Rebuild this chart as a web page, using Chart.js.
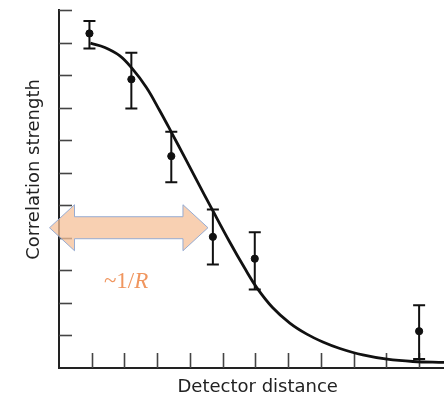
<!DOCTYPE html>
<html>
<head>
<meta charset="utf-8">
<script src="https://cdn.jsdelivr.net/npm/chart.js@4/dist/chart.umd.min.js"></script>
<style>
html,body{margin:0;padding:0;background:#fff;}
#wrap{width:444px;height:397px;}
</style>
</head>
<body>
<div id="wrap"><canvas id="c" width="444" height="397"></canvas></div>
<script>
// ---- data ----
const curveX = [0.96,1.40,1.85,2.22,2.67,3.07,3.43,3.84,4.20,4.69,5.21,5.67,6.04,6.53,7.05,7.57,8.06,8.58,9.28,10.02,10.81,11.76];
const curveY = [9.98,9.85,9.60,9.22,8.62,7.92,7.25,6.47,5.78,4.85,3.88,3.07,2.47,1.85,1.38,1.04,0.80,0.60,0.40,0.27,0.20,0.17];
const pointX = [0.93,2.21,3.43,4.70,5.98,11.0];
const pointY = [10.28,8.87,6.51,4.03,3.36,1.13];
const errHigh = [10.66,9.69,7.26,4.87,4.17,1.93];
const errLow  = [9.82,7.97,5.71,3.18,2.41,0.28];
const xTickValues = [1,2,3,4,5,6,7,8,9,10,11];
const yTickValues = [1,2,3,4,5,6,7,8,9,10,11];
const xTitle = "Detector distance";
const yTitle = "Correlation strength";
const arrowFrom = -0.29, arrowTo = 4.55, arrowY = 4.31;
const noteText = ["~1/", "R"];
const noteX = 2.05, noteY = 2.65;
const yTitleAt = 6.1, xTitleAt = 6.07;

const curveData = curveX.map((x,i)=>({x:x,y:curveY[i]}));
const pointData = pointX.map((x,i)=>({x:x,y:pointY[i]}));

const decor = {
  id:'decor',
  beforeDatasetsDraw(chart){
    const ctx = chart.ctx, xs = chart.scales.x, ys = chart.scales.y, ca = chart.chartArea;
    ctx.save();
    ctx.strokeStyle = '#444';
    ctx.lineWidth = 1.6;
    yTickValues.forEach(v=>{
      const py = Math.round(ys.getPixelForValue(v))+0.5;
      ctx.beginPath(); ctx.moveTo(ca.left, py); ctx.lineTo(ca.left+13, py); ctx.stroke();
    });
    xTickValues.forEach(v=>{
      const px = Math.round(xs.getPixelForValue(v))+0.5;
      ctx.beginPath(); ctx.moveTo(px, ca.bottom); ctx.lineTo(px, ca.bottom-15); ctx.stroke();
    });
    ctx.restore();
  },
  afterDatasetsDraw(chart){
    const ctx = chart.ctx, xs = chart.scales.x, ys = chart.scales.y, ca = chart.chartArea;
    ctx.save();
    // error bars
    ctx.strokeStyle = '#111';
    ctx.lineWidth = 2;
    pointX.forEach((x,i)=>{
      const px = xs.getPixelForValue(x);
      const t = ys.getPixelForValue(errHigh[i]);
      const b = ys.getPixelForValue(errLow[i]);
      ctx.beginPath();
      ctx.moveTo(px,t); ctx.lineTo(px,b);
      ctx.moveTo(px-6,t); ctx.lineTo(px+6,t);
      ctx.moveTo(px-6,b); ctx.lineTo(px+6,b);
      ctx.stroke();
    });
    // double arrow
    const x0 = xs.getPixelForValue(arrowFrom), x1 = xs.getPixelForValue(arrowTo);
    const cy = ys.getPixelForValue(arrowY);
    const hl = 25, hh = 23, sh = 11;
    ctx.beginPath();
    ctx.moveTo(x0, cy);
    ctx.lineTo(x0+hl, cy-hh);
    ctx.lineTo(x0+hl, cy-sh);
    ctx.lineTo(x1-hl, cy-sh);
    ctx.lineTo(x1-hl, cy-hh);
    ctx.lineTo(x1, cy);
    ctx.lineTo(x1-hl, cy+hh);
    ctx.lineTo(x1-hl, cy+sh);
    ctx.lineTo(x0+hl, cy+sh);
    ctx.lineTo(x0+hl, cy+hh);
    ctx.closePath();
    ctx.fillStyle = 'rgba(246,192,152,0.75)';
    ctx.fill();
    ctx.strokeStyle = 'rgba(140,165,210,0.9)';
    ctx.lineWidth = 1;
    ctx.stroke();
    // note text
    ctx.fillStyle = 'rgb(240,150,95)';
    ctx.textBaseline = 'middle';
    const nx = xs.getPixelForValue(noteX), ny = ys.getPixelForValue(noteY);
    ctx.font = '23px "Liberation Serif"';
    const w1 = ctx.measureText(noteText[0]).width;
    ctx.font = 'italic 23px "Liberation Serif"';
    const w2 = ctx.measureText(noteText[1]).width;
    const sx = nx - (w1+w2)/2;
    ctx.textAlign = 'left';
    ctx.font = '23px "Liberation Serif"';
    ctx.fillText(noteText[0], sx, ny);
    ctx.font = 'italic 23px "Liberation Serif"';
    ctx.fillText(noteText[1], sx+w1, ny);
    // axis titles
    ctx.fillStyle = '#222';
    ctx.font = '18px "DejaVu Sans"';
    ctx.textAlign = 'center';
    ctx.textBaseline = 'middle';
    ctx.fillText(xTitle, xs.getPixelForValue(xTitleAt), ca.bottom + 19);
    ctx.translate(ca.left - 25, ys.getPixelForValue(yTitleAt));
    ctx.rotate(-Math.PI/2);
    ctx.fillText(yTitle, 0, 0);
    ctx.restore();
  }
};

new Chart(document.getElementById('c'), {
  type: 'scatter',
  data: {
    datasets: [
      {
        type: 'line',
        data: curveData,
        borderColor: '#111',
        borderWidth: 2.8,
        pointRadius: 0,
        fill: false,
        tension: 0.4,
        clip: false
      },
      {
        data: pointData,
        backgroundColor: '#111',
        borderColor: '#111',
        pointRadius: 3.6,
        pointHoverRadius: 3.6
      }
    ]
  },
  options: {
    responsive: false,
    animation: false,
    devicePixelRatio: 1,
    layout: { autoPadding: false, padding: { left: 59, top: 10, right: 0, bottom: 29 } },
    plugins: { legend: { display: false }, tooltip: { enabled: false } },
    scales: {
      x: {
        type: 'linear', min: 0, max: 11.76,
        ticks: { display: false },
        grid: { display: false, drawTicks: false },
        border: { display: true, color: '#222', width: 2 }
      },
      y: {
        type: 'linear', min: 0, max: 11,
        ticks: { display: false },
        grid: { display: false, drawTicks: false },
        border: { display: true, color: '#222', width: 2 }
      }
    }
  },
  plugins: [decor]
});
</script>
</body>
</html>
